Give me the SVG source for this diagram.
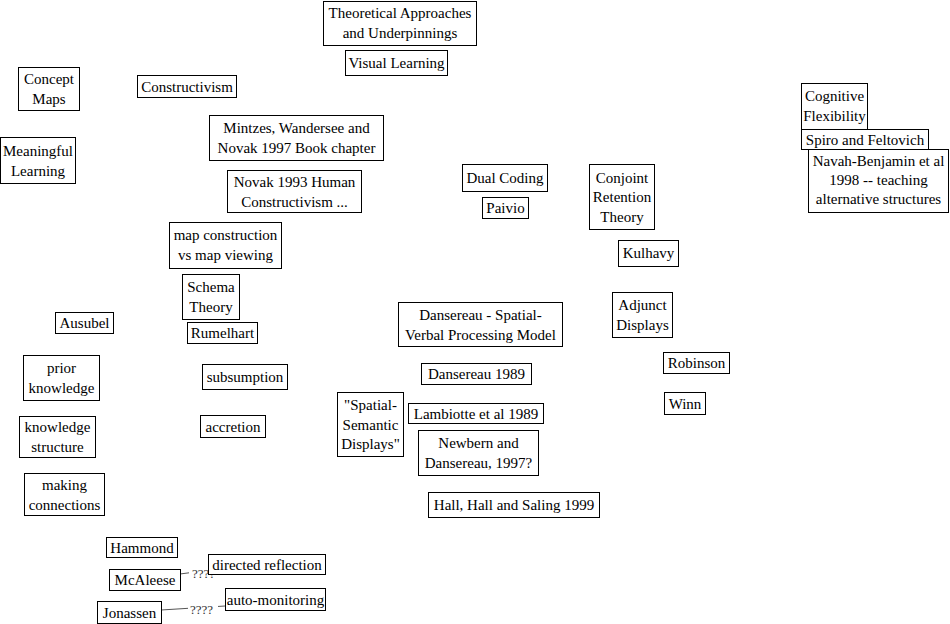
<svg xmlns="http://www.w3.org/2000/svg" width="950" height="624" viewBox="0 0 950 624" font-family="Liberation Serif, Times New Roman, serif">
<style>
rect.n{fill:#fff;stroke:#000;stroke-width:1}
text{font-family:'Liberation Serif',serif;font-size:15px;fill:#000;text-anchor:middle}
text.l{font-size:13px;fill:#333;text-anchor:start}
line.c{stroke:#555;stroke-width:1}
rect.lb{fill:#fff;stroke:none}
</style>
<rect width="950" height="624" fill="#fff"/>
<g id="connectors">
<line class="c" x1="180" y1="574" x2="210" y2="570"/>
<rect class="lb" x="189" y="564" width="28" height="16"/>
<text class="l" x="192" y="578">????</text>
<line class="c" x1="161" y1="610" x2="225" y2="606"/>
<rect class="lb" x="188" y="600" width="30" height="16"/>
<text class="l" x="190" y="614">????</text>
</g>
<g id="theo"><rect class="n" x="323.5" y="1.5" width="153" height="44"/><text x="400" y="18">Theoretical Approaches</text><text x="400" y="38">and Underpinnings</text></g>
<g id="visual"><rect class="n" x="345.5" y="50.5" width="102" height="25"/><text x="396.5" y="68">Visual Learning</text></g>
<g id="concept"><rect class="n" x="18.5" y="67.5" width="61" height="43"/><text x="49" y="84">Concept</text><text x="49" y="104">Maps</text></g>
<g id="constructivism"><rect class="n" x="137.5" y="75.5" width="99" height="22"/><text x="187" y="92">Constructivism</text></g>
<g id="mintzes"><rect class="n" x="209.5" y="115.5" width="174" height="45"/><text x="296.5" y="133">Mintzes, Wandersee and</text><text x="296.5" y="153">Novak 1997 Book chapter</text></g>
<g id="meaningful"><rect class="n" x="0.5" y="137.5" width="75" height="46"/><text x="38" y="156">Meaningful</text><text x="38" y="176">Learning</text></g>
<g id="novak93"><rect class="n" x="227.5" y="170.5" width="134" height="42"/><text x="294.5" y="187">Novak 1993 Human</text><text x="294.5" y="207">Constructivism ...</text></g>
<g id="dual"><rect class="n" x="462.5" y="164.5" width="85" height="27"/><text x="505" y="183">Dual Coding</text></g>
<g id="paivio"><rect class="n" x="482.5" y="197.5" width="46" height="21"/><text x="505.5" y="213">Paivio</text></g>
<g id="conjoint"><rect class="n" x="589.5" y="164.5" width="65" height="65"/><text x="622" y="183">Conjoint</text><text x="622" y="202">Retention</text><text x="622" y="222">Theory</text></g>
<g id="kulhavy"><rect class="n" x="618.5" y="240.5" width="60" height="26"/><text x="648.5" y="258">Kulhavy</text></g>
<g id="adjunct"><rect class="n" x="612.5" y="292.5" width="60" height="45"/><text x="642.5" y="310">Adjunct</text><text x="642.5" y="330">Displays</text></g>
<g id="robinson"><rect class="n" x="663.5" y="352.5" width="66" height="21"/><text x="696.5" y="368">Robinson</text></g>
<g id="winn"><rect class="n" x="664.5" y="392.5" width="41" height="22"/><text x="685" y="409">Winn</text></g>
<g id="cogflex"><rect class="n" x="801.5" y="83.5" width="66" height="46"/><text x="834.5" y="101">Cognitive</text><text x="834.5" y="121">Flexibility</text></g>
<g id="spiro"><rect class="n" x="801.5" y="129.5" width="127" height="20"/><text x="865" y="145">Spiro and Feltovich</text></g>
<g id="navah"><rect class="n" x="808.5" y="149.5" width="140" height="63"/><text x="878.5" y="166">Navah-Benjamin et al</text><text x="878.5" y="185">1998 -- teaching</text><text x="878.5" y="204">alternative structures</text></g>
<g id="mapcons"><rect class="n" x="169.5" y="222.5" width="112" height="46"/><text x="225.5" y="240">map construction</text><text x="225.5" y="260">vs map viewing</text></g>
<g id="schema"><rect class="n" x="182.5" y="274.5" width="57" height="45"/><text x="211" y="292">Schema</text><text x="211" y="312">Theory</text></g>
<g id="rumelhart"><rect class="n" x="187.5" y="322.5" width="70" height="21"/><text x="222.5" y="338">Rumelhart</text></g>
<g id="ausubel"><rect class="n" x="55.5" y="312.5" width="58" height="21"/><text x="84.5" y="328">Ausubel</text></g>
<g id="prior"><rect class="n" x="23.5" y="355.5" width="76" height="45"/><text x="61.5" y="373">prior</text><text x="61.5" y="393">knowledge</text></g>
<g id="subsumption"><rect class="n" x="202.5" y="364.5" width="85" height="25"/><text x="245" y="382">subsumption</text></g>
<g id="kstructure"><rect class="n" x="19.5" y="416.5" width="76" height="41"/><text x="57.5" y="432">knowledge</text><text x="57.5" y="452">structure</text></g>
<g id="accretion"><rect class="n" x="200.5" y="415.5" width="65" height="22"/><text x="233" y="432">accretion</text></g>
<g id="ssd"><rect class="n" x="337.5" y="392.5" width="66" height="64"/><text x="370.5" y="410">"Spatial-</text><text x="370.5" y="430">Semantic</text><text x="370.5" y="449">Displays"</text></g>
<g id="svp"><rect class="n" x="398.5" y="302.5" width="164" height="44"/><text x="480.5" y="320">Dansereau - Spatial-</text><text x="480.5" y="340">Verbal Processing Model</text></g>
<g id="d1989"><rect class="n" x="421.5" y="363.5" width="110" height="21"/><text x="476.5" y="379">Dansereau 1989</text></g>
<g id="lambiotte"><rect class="n" x="408.5" y="403.5" width="135" height="20"/><text x="476" y="419">Lambiotte et al 1989</text></g>
<g id="newbern"><rect class="n" x="418.5" y="430.5" width="120" height="45"/><text x="478.5" y="448">Newbern and</text><text x="478.5" y="468">Dansereau, 1997?</text></g>
<g id="hall"><rect class="n" x="428.5" y="492.5" width="171" height="25"/><text x="514" y="510">Hall, Hall and Saling 1999</text></g>
<g id="making"><rect class="n" x="24.5" y="473.5" width="80" height="42"/><text x="64.5" y="490">making</text><text x="64.5" y="510">connections</text></g>
<g id="hammond"><rect class="n" x="106.5" y="537.5" width="71" height="20"/><text x="142" y="553">Hammond</text></g>
<g id="mcaleese"><rect class="n" x="109.5" y="569.5" width="71" height="21"/><text x="145" y="585">McAleese</text></g>
<g id="directed"><rect class="n" x="208.5" y="554.5" width="117" height="20"/><text x="267" y="570">directed reflection</text></g>
<g id="jonassen"><rect class="n" x="97.5" y="601.5" width="64" height="22"/><text x="129.5" y="618">Jonassen</text></g>
<g id="automon"><rect class="n" x="225.5" y="588.5" width="100" height="22"/><text x="275.5" y="605">auto-monitoring</text></g>
</svg>
